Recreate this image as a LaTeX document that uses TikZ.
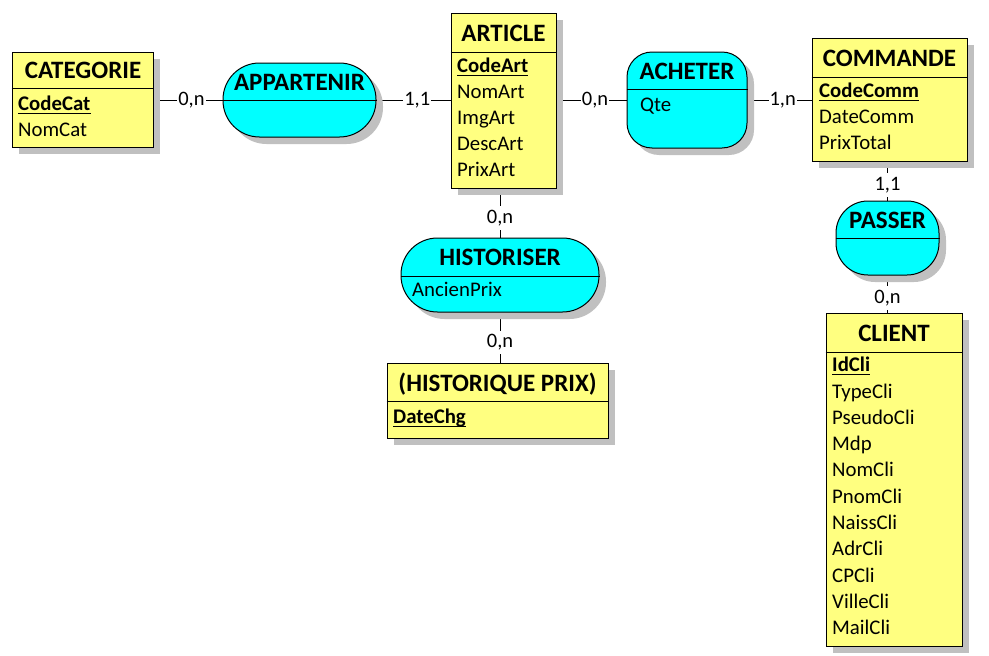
\documentclass[tikz,border=0pt]{standalone}
\usepackage{fontspec}
\setmainfont{Carlito}
\usepackage{xcolor}
\usepackage{tikz}
\usetikzlibrary{shadows,backgrounds}
\definecolor{entfill}{HTML}{FFFF80}
\definecolor{assofill}{HTML}{00FFFF}
\definecolor{shade}{HTML}{C0C0C0}
\definecolor{ink}{HTML}{000000}
\tikzset{
  ent/.style={draw=ink, fill=entfill, line width=1pt, inner sep=0pt,
    drop shadow={shadow xshift=7pt, shadow yshift=-7pt, fill=shade, opacity=1}},
  asso/.style={ent, fill=assofill},
  rule/.style={draw=ink, line width=1pt},
  link/.style={draw=ink, line width=1pt},
  title/.style={text=ink, font=\fontsize{25}{30}\selectfont\bfseries, inner sep=0pt, anchor=base},
  attr/.style={text=ink, font=\fontsize{20.8}{25}\selectfont, inner sep=0pt, anchor=base west},
  key/.style={attr, font=\fontsize{20.8}{25}\selectfont\bfseries},
  uline/.style={draw=ink, line width=1pt},
  card/.style={text=ink, font=\fontsize{20.5}{25}\selectfont, fill=white, inner xsep=1pt, inner ysep=4pt},
}
\begin{document}
\begin{tikzpicture}[x=1pt, y=-1pt]
  \useasboundingbox (0,0) rectangle (989,656);

  % CATEGORIE
  \node[ent, minimum width=141pt, minimum height=95pt] (cat) at (82.5,99.5) {};
  \draw[rule] (cat.west |- 0,88) -- (cat.east |- 0,88);
  \node[title] (cat-t) at (83,78) {CATEGORIE};
  \node[key] (cat-k) at (18,110.7) {CodeCat};
  \draw[uline] ([yshift=-2.5pt]cat-k.base west) -- ([yshift=-2.5pt]cat-k.base east);
  \node[attr] (cat-a1) at (18,136.7) {NomCat};

  % APPARTENIR
  \node[asso, rounded corners=36.5pt, minimum width=153pt, minimum height=74pt] (app) at (299.5,100) {};
  \draw[rule] (app.west) -- (app.east);
  \node[title] (app-t) at (299.5,90) {APPARTENIR};

  % ARTICLE
  \node[ent, minimum width=105pt, minimum height=175pt] (art) at (503.5,100.5) {};
  \draw[rule] (art.west |- 0,52) -- (art.east |- 0,52);
  \node[title] (art-t) at (503.5,41) {ARTICLE};
  \node[key] (art-k) at (457,72.7) {CodeArt};
  \draw[uline] ([yshift=-2.5pt]art-k.base west) -- ([yshift=-2.5pt]art-k.base east);
  \node[attr] (art-a1) at (457,98.7) {NomArt};
  \node[attr] (art-a2) at (457,124.7) {ImgArt};
  \node[attr] (art-a3) at (457,150.7) {DescArt};
  \node[attr] (art-a4) at (457,176.7) {PrixArt};

  % ACHETER
  \node[asso, rounded corners=25pt, minimum width=120pt, minimum height=96pt] (ach) at (687,100) {};
  \draw[rule] (ach.west |- 0,89) -- (ach.east |- 0,89);
  \node[title] (ach-t) at (687,79) {ACHETER};
  \node[attr] (ach-a1) at (640,111.7) {Qte};

  % COMMANDE
  \node[ent, minimum width=155pt, minimum height=123pt] (com) at (889.5,99.5) {};
  \draw[rule] (com.west |- 0,77) -- (com.east |- 0,77);
  \node[title] (com-t) at (889.5,66) {COMMANDE};
  \node[key] (com-k) at (819,97.7) {CodeComm};
  \draw[uline] ([yshift=-2.5pt]com-k.base west) -- ([yshift=-2.5pt]com-k.base east);
  \node[attr] (com-a1) at (819,123.7) {DateComm};
  \node[attr] (com-a2) at (819,149.7) {PrixTotal};

  % PASSER
  \node[asso, rounded corners=32pt, minimum width=103pt, minimum height=74pt] (pas) at (887.5,238) {};
  \draw[rule] (pas.west) -- (pas.east);
  \node[title] (pas-t) at (887.5,228) {PASSER};

  % CLIENT
  \node[ent, minimum width=136pt, minimum height=333pt] (cli) at (894,479.5) {};
  \draw[rule] (cli.west |- 0,352) -- (cli.east |- 0,352);
  \node[title] (cli-t) at (894,341) {CLIENT};
  \node[key] (cli-k) at (832,371.7) {IdCli};
  \draw[uline] ([yshift=-2.5pt]cli-k.base west) -- ([yshift=-2.5pt]cli-k.base east);
  \node[attr] (cli-a1) at (832,398.0) {TypeCli};
  \node[attr] (cli-a2) at (832,424.3) {PseudoCli};
  \node[attr] (cli-a3) at (832,450.6) {Mdp};
  \node[attr] (cli-a4) at (832,476.9) {NomCli};
  \node[attr] (cli-a5) at (832,503.2) {PnomCli};
  \node[attr] (cli-a6) at (832,529.5) {NaissCli};
  \node[attr] (cli-a7) at (832,555.8) {AdrCli};
  \node[attr] (cli-a8) at (832,582.1) {CPCli};
  \node[attr] (cli-a9) at (832,608.4) {VilleCli};
  \node[attr] (cli-a10) at (832,634.7) {MailCli};

  % HISTORISER
  \node[asso, rounded corners=36.5pt, minimum width=198pt, minimum height=74pt] (his) at (500,275) {};
  \draw[rule] (his.west |- 0,276) -- (his.east |- 0,276);
  \node[title] (his-t) at (500,265) {HISTORISER};
  \node[attr] (his-a1) at (412,296.7) {AncienPrix};

  % (HISTORIQUE PRIX)
  \node[ent, minimum width=221pt, minimum height=75pt] (hpx) at (497.5,400.5) {};
  \draw[rule] (hpx.west |- 0,401) -- (hpx.east |- 0,401);
  \node[title] (hpx-t) at (497.5,391) {(HISTORIQUE PRIX)};
  \node[key] (hpx-k) at (393,423.7) {DateChg};
  \draw[uline] ([yshift=-2.5pt]hpx-k.base west) -- ([yshift=-2.5pt]hpx-k.base east);

  % links with cardinalities
  \begin{pgfonlayer}{background}
    \draw[link] (app.west -| cat.east) -- node[card, pos=0.55] (c-cat) {0,n} (app.west);
    \draw[link] (app.east) -- node[card, pos=0.55] (c-art1) {1,1} (app.east -| art.west);
    \draw[link] (ach.west -| art.east) -- node[card, pos=0.55] (c-art2) {0,n} (ach.west);
    \draw[link] (ach.east) -- node[card, pos=0.55] (c-com1) {1,n} (ach.east -| com.west);
    \draw[link] (his.north |- art.south) -- node[card, pos=0.6] (c-art3) {0,n} (his.north);
    \draw[link] (his.south) -- node[card, pos=0.6] (c-hpx) {0,n} (his.south |- hpx.north);
    \draw[link] (pas.north |- com.south) -- node[card, pos=0.6] (c-com2) {1,1} (pas.north);
    \draw[link] (pas.south) -- node[card, pos=0.6] (c-cli) {0,n} (pas.south |- cli.north);
  \end{pgfonlayer}
\end{tikzpicture}
\end{document}
